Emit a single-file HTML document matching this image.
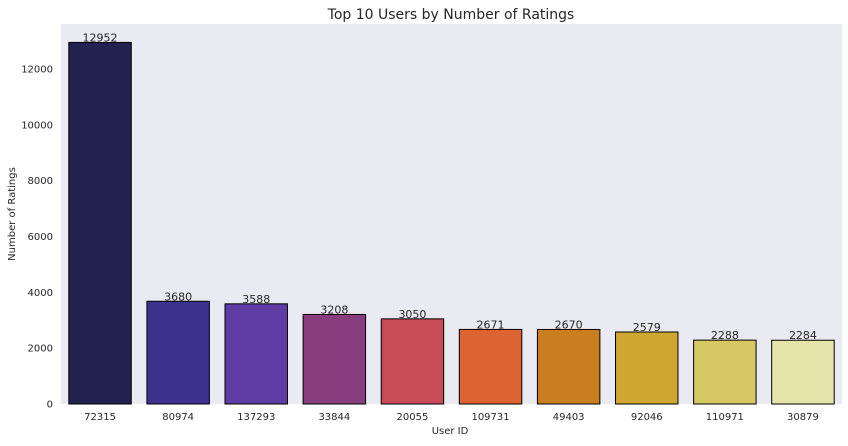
<!DOCTYPE html>
<html><head><meta charset="utf-8"><style>
body{margin:0;background:#fff;font-family:"DejaVu Sans","Liberation Sans",sans-serif;}
</style></head><body>
<svg width="848" height="442" font-family="DejaVu Sans, Liberation Sans, sans-serif" xmlns="http://www.w3.org/2000/svg">
<rect x="61" y="24" width="781" height="380" fill="#eaeaf2"/>
<text x="451" y="19" text-anchor="middle" font-size="14" fill="#262626">Top 10 Users by Number of Ratings</text>
<text x="450" y="434" text-anchor="middle" font-size="10" fill="#262626">User ID</text>
<text transform="translate(15,214) rotate(-90)" text-anchor="middle" font-size="10" fill="#262626">Number of Ratings</text>
<g id="g"></g>
</svg>
<script>
const categories=["72315","80974","137293","33844","20055","109731","49403","92046","110971","30879"];
const values=[12952,3680,3588,3208,3050,2671,2670,2579,2288,2284];
const yTicks=[0,2000,4000,6000,8000,10000,12000];
const colors=["#22224f","#3d318e","#5f3ba4","#883d7e","#c84c57","#dc6332","#c97f1f","#cda72f","#d6c862","#e6e4aa"];
const L=61,R=842,T=24,B=404,yMax=13612;
const step=(R-L)/categories.length;
const y=v=>B-v/yMax*(B-T);
const x=i=>L+step*i;
const g=document.getElementById('g');
const NS="http://www.w3.org/2000/svg";
function mk(t,a){const e=document.createElementNS(NS,t);for(const k in a)e.setAttribute(k,a[k]);g.appendChild(e);return e;}
yTicks.forEach(v=>{
 const t=mk('text',{x:L-8,y:y(v)+3.5,'text-anchor':'end','font-size':10,fill:'#262626'});
 t.textContent=v;
 
 
});
categories.forEach((c,i)=>{
 const bx=x(i)+step*0.1,bw=step*0.8;
 const r=mk('rect',{x:bx,y:y(values[i]),width:bw,height:B-y(values[i]),fill:colors[i],stroke:'#000','stroke-width':1});
 
 
 const l=mk('text',{x:x(i)+step/2,y:y(values[i])-1,'text-anchor':'middle','font-size':11,fill:'#262626'});
 l.textContent=values[i];
 
 
 const t=mk('text',{x:x(i)+step/2,y:B+16,'text-anchor':'middle','font-size':10,fill:'#262626'});
 t.textContent=c;
 
 
});
</script>
</body></html>
